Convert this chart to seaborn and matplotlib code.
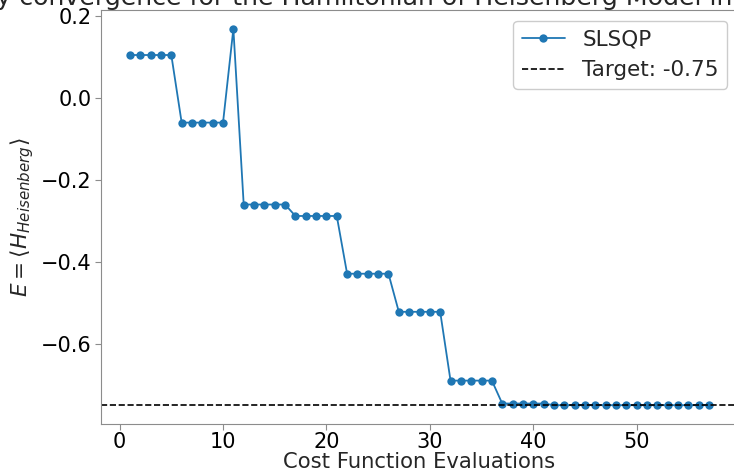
import matplotlib
matplotlib.use("Agg")
import matplotlib.pyplot as plt
import seaborn as sns
import pandas as pd

evals = list(range(1, 58))
energy = ([0.105] * 5 + [-0.060] * 5 + [0.169] + [-0.260] * 5 + [-0.288] * 5 +
          [-0.429] * 5 + [-0.522] * 5 + [-0.690] * 5 + [-0.746] * 5 + [-0.750] * 16)
target = -0.75
title = "Energy convergence for the Hamiltonian of Heisenberg Model in 1D (4 qubits)"

sns.set_style("ticks", {"axes.edgecolor": "0.55", "xtick.color": "0.55", "ytick.color": "0.55"})
plt.rcParams["font.family"] = ["DejaVu Sans"]

df = pd.DataFrame({"eval": evals, "E": energy})

fig = plt.figure(figsize=(7.34, 4.72), dpi=100)
ax = fig.add_axes([101 / 734, 1 - 424 / 472, 637 / 734, 414 / 472])

sns.lineplot(data=df, x="eval", y="E", ax=ax, marker="o", markersize=6,
             markeredgewidth=0, color="#1f77b4", linewidth=1.3, label="SLSQP")
ax.axhline(target, color="black", linestyle="--", linewidth=1.2, label=f"Target: {target}")

ax.margins(x=0.05, y=0.05)
ax.set_xticks([0, 10, 20, 30, 40, 50])
ax.set_yticks([0.2, 0.0, -0.2, -0.4, -0.6])
ax.tick_params(axis="y", labelsize=15, labelcolor="black", length=4, pad=3)
ax.tick_params(axis="x", labelsize=15, labelcolor="black", length=4, pad=2)
ax.set_xlabel("Cost Function Evaluations", fontsize=15.2, labelpad=0)
ax.set_ylabel(r"$E = \langle H_{Heisenberg} \rangle$", fontsize=15.5, labelpad=3)
ax.set_title(title, fontsize=18.2, pad=1, x=0.492)
ax.legend(loc="upper right", fontsize=15.5, frameon=True, fancybox=True, framealpha=1,
          handlelength=2.0, handletextpad=0.8, borderaxespad=0.5)

fig.savefig("out.png", dpi=100)
